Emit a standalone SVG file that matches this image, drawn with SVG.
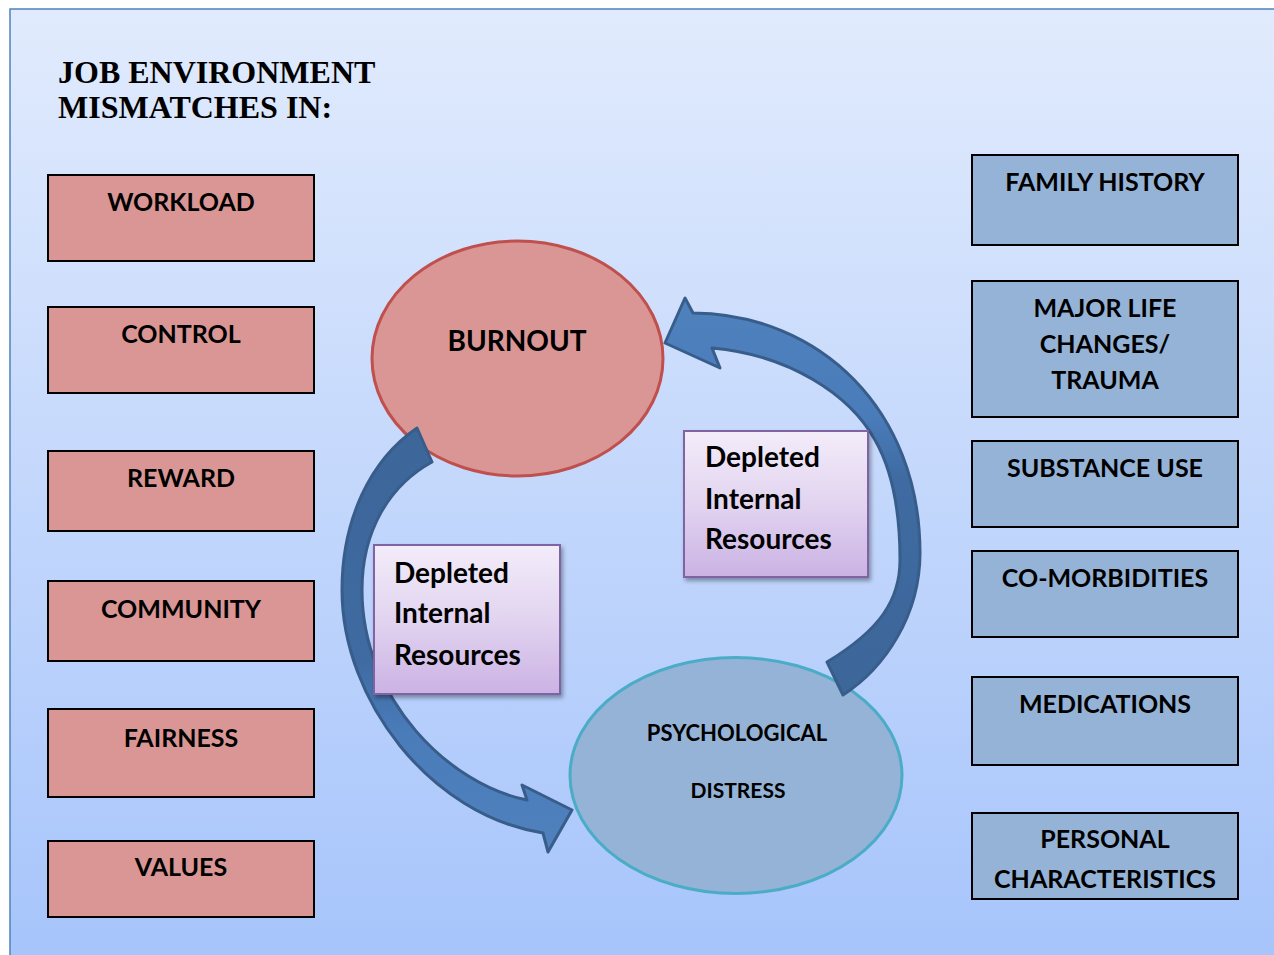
<svg xmlns="http://www.w3.org/2000/svg" width="1274" height="955" viewBox="0 0 1274 955">
<defs>
<linearGradient id="bg" x1="0" y1="0" x2="0" y2="1">
<stop offset="0" stop-color="#e1ebfd"/>
<stop offset="1" stop-color="#a6c4fb"/>
</linearGradient>
<linearGradient id="purple" x1="0" y1="0" x2="0" y2="1">
<stop offset="0" stop-color="#f3ecf9"/>
<stop offset="0.5" stop-color="#e2d4f0"/>
<stop offset="1" stop-color="#cbb2e4"/>
</linearGradient>
<linearGradient id="arrL" gradientUnits="userSpaceOnUse" x1="0" y1="428" x2="0" y2="852">
<stop offset="0" stop-color="#3d6699"/>
<stop offset="0.55" stop-color="#3f6ba2"/>
<stop offset="0.72" stop-color="#4a7cba"/>
<stop offset="1" stop-color="#4f81bd"/>
</linearGradient>
<linearGradient id="arrR" gradientUnits="userSpaceOnUse" x1="0" y1="298" x2="0" y2="695">
<stop offset="0" stop-color="#4f81bd"/>
<stop offset="0.3" stop-color="#4a7cba"/>
<stop offset="0.45" stop-color="#3f6ba2"/>
<stop offset="1" stop-color="#3d6699"/>
</linearGradient>
<filter id="shadow" x="-10%" y="-10%" width="130%" height="130%">
<feDropShadow dx="2" dy="3" stdDeviation="2" flood-color="#000" flood-opacity="0.35"/>
</filter>
</defs>
<style>
.t{font-family:Lato,"Open Sans","Liberation Sans",sans-serif;font-weight:bold;fill:#000;text-anchor:middle}
.lbl{font-size:25px}
.title{font-family:"Liberation Serif","DejaVu Serif",serif;font-weight:bold;font-size:32px;fill:#000}
.red{fill:#d99694;stroke:#000;stroke-width:2}
.blue{fill:#95b3d7;stroke:#000;stroke-width:2}
.pbox{fill:url(#purple);stroke:#8064a2;stroke-width:2;filter:url(#shadow)}
.dep{font-family:Lato,"Open Sans","Liberation Sans",sans-serif;font-weight:bold;font-size:28px;fill:#000}
.arrow{stroke:#385d8a;stroke-width:3;stroke-linejoin:round}
</style>
<rect x="0" y="0" width="1274" height="955" fill="#ffffff"/>
<rect x="10" y="9" width="1280" height="960" fill="url(#bg)" stroke="#4f81bd" stroke-width="1.5"/>
<g id="title">
<text class="title" x="58" y="83">JOB ENVIRONMENT</text>
<text class="title" x="58" y="118">MISMATCHES IN:</text>
</g>
<g id="workload"><rect class="red" x="48" y="175" width="266" height="86"/><text class="t lbl" x="181" y="211">WORKLOAD</text></g>
<g id="control"><rect class="red" x="48" y="307" width="266" height="86"/><text class="t lbl" x="181" y="343">CONTROL</text></g>
<g id="reward"><rect class="red" x="48" y="451" width="266" height="80"/><text class="t lbl" x="181" y="487">REWARD</text></g>
<g id="community"><rect class="red" x="48" y="581" width="266" height="80"/><text class="t lbl" x="181" y="618">COMMUNITY</text></g>
<g id="fairness"><rect class="red" x="48" y="709" width="266" height="88"/><text class="t lbl" x="181" y="747">FAIRNESS</text></g>
<g id="values"><rect class="red" x="48" y="841" width="266" height="76"/><text class="t lbl" x="181" y="876">VALUES</text></g>
<g id="family-history"><rect class="blue" x="972" y="155" width="266" height="90"/><text class="t lbl" x="1105" y="191">FAMILY HISTORY</text></g>
<g id="major-life-changes"><rect class="blue" x="972" y="281" width="266" height="136"/><text class="t lbl" x="1105" y="317">MAJOR LIFE</text><text class="t lbl" x="1105" y="353">CHANGES/</text><text class="t lbl" x="1105" y="389">TRAUMA</text></g>
<g id="substance-use"><rect class="blue" x="972" y="441" width="266" height="86"/><text class="t lbl" x="1105" y="477">SUBSTANCE USE</text></g>
<g id="co-morbidities"><rect class="blue" x="972" y="551" width="266" height="86"/><text class="t lbl" x="1105" y="587">CO-MORBIDITIES</text></g>
<g id="medications"><rect class="blue" x="972" y="677" width="266" height="88"/><text class="t lbl" x="1105" y="713">MEDICATIONS</text></g>
<g id="personal-characteristics"><rect class="blue" x="972" y="813" width="266" height="86"/><text class="t lbl" x="1105" y="848">PERSONAL</text><text class="t lbl" x="1105" y="888">CHARACTERISTICS</text></g>
<g id="burnout">
<ellipse cx="517.5" cy="358.5" rx="145.5" ry="117.5" fill="#d99694" stroke="#c0504d" stroke-width="3"/>
<text class="t" x="517" y="351" font-size="28">BURNOUT</text>
</g>
<g id="psychological-distress">
<ellipse cx="736" cy="775.5" rx="166" ry="118" fill="#95b3d7" stroke="#4bacc6" stroke-width="3"/>
<text class="t" x="737" y="741" font-size="22">PSYCHOLOGICAL</text>
<text class="t" x="738" y="798" font-size="21">DISTRESS</text>
</g>
<g id="connectors">
<path class="arrow" fill="url(#arrL)" d="M417,428 C370,460 342,520 342,590 C342,700 430,815 543,833 L548,852 L572,810 L522,785 L527,800 C450,785 362,700 362,590 C362,530 390,485 432,462 Z"/>
<path class="arrow" fill="url(#arrR)" d="M843,695 C885,668 920,615 920,553 C920,410 820,314 693,313 L685,298 L665,343 L720,368 L712,348 C790,355 850,395 875,440 C895,475 900,520 900,560 C900,600 880,630 827,662 Z"/>
</g>
<g id="depleted-left">
<rect class="pbox" x="374" y="545" width="186" height="149"/>
<text class="dep" x="394" y="583">Depleted</text>
<text class="dep" x="394" y="623">Internal</text>
<text class="dep" x="394" y="665">Resources</text>
</g>
<g id="depleted-right">
<rect class="pbox" x="684" y="431" width="184" height="146"/>
<text class="dep" x="705" y="467">Depleted</text>
<text class="dep" x="705" y="509">Internal</text>
<text class="dep" x="705" y="549">Resources</text>
</g>
</svg>
